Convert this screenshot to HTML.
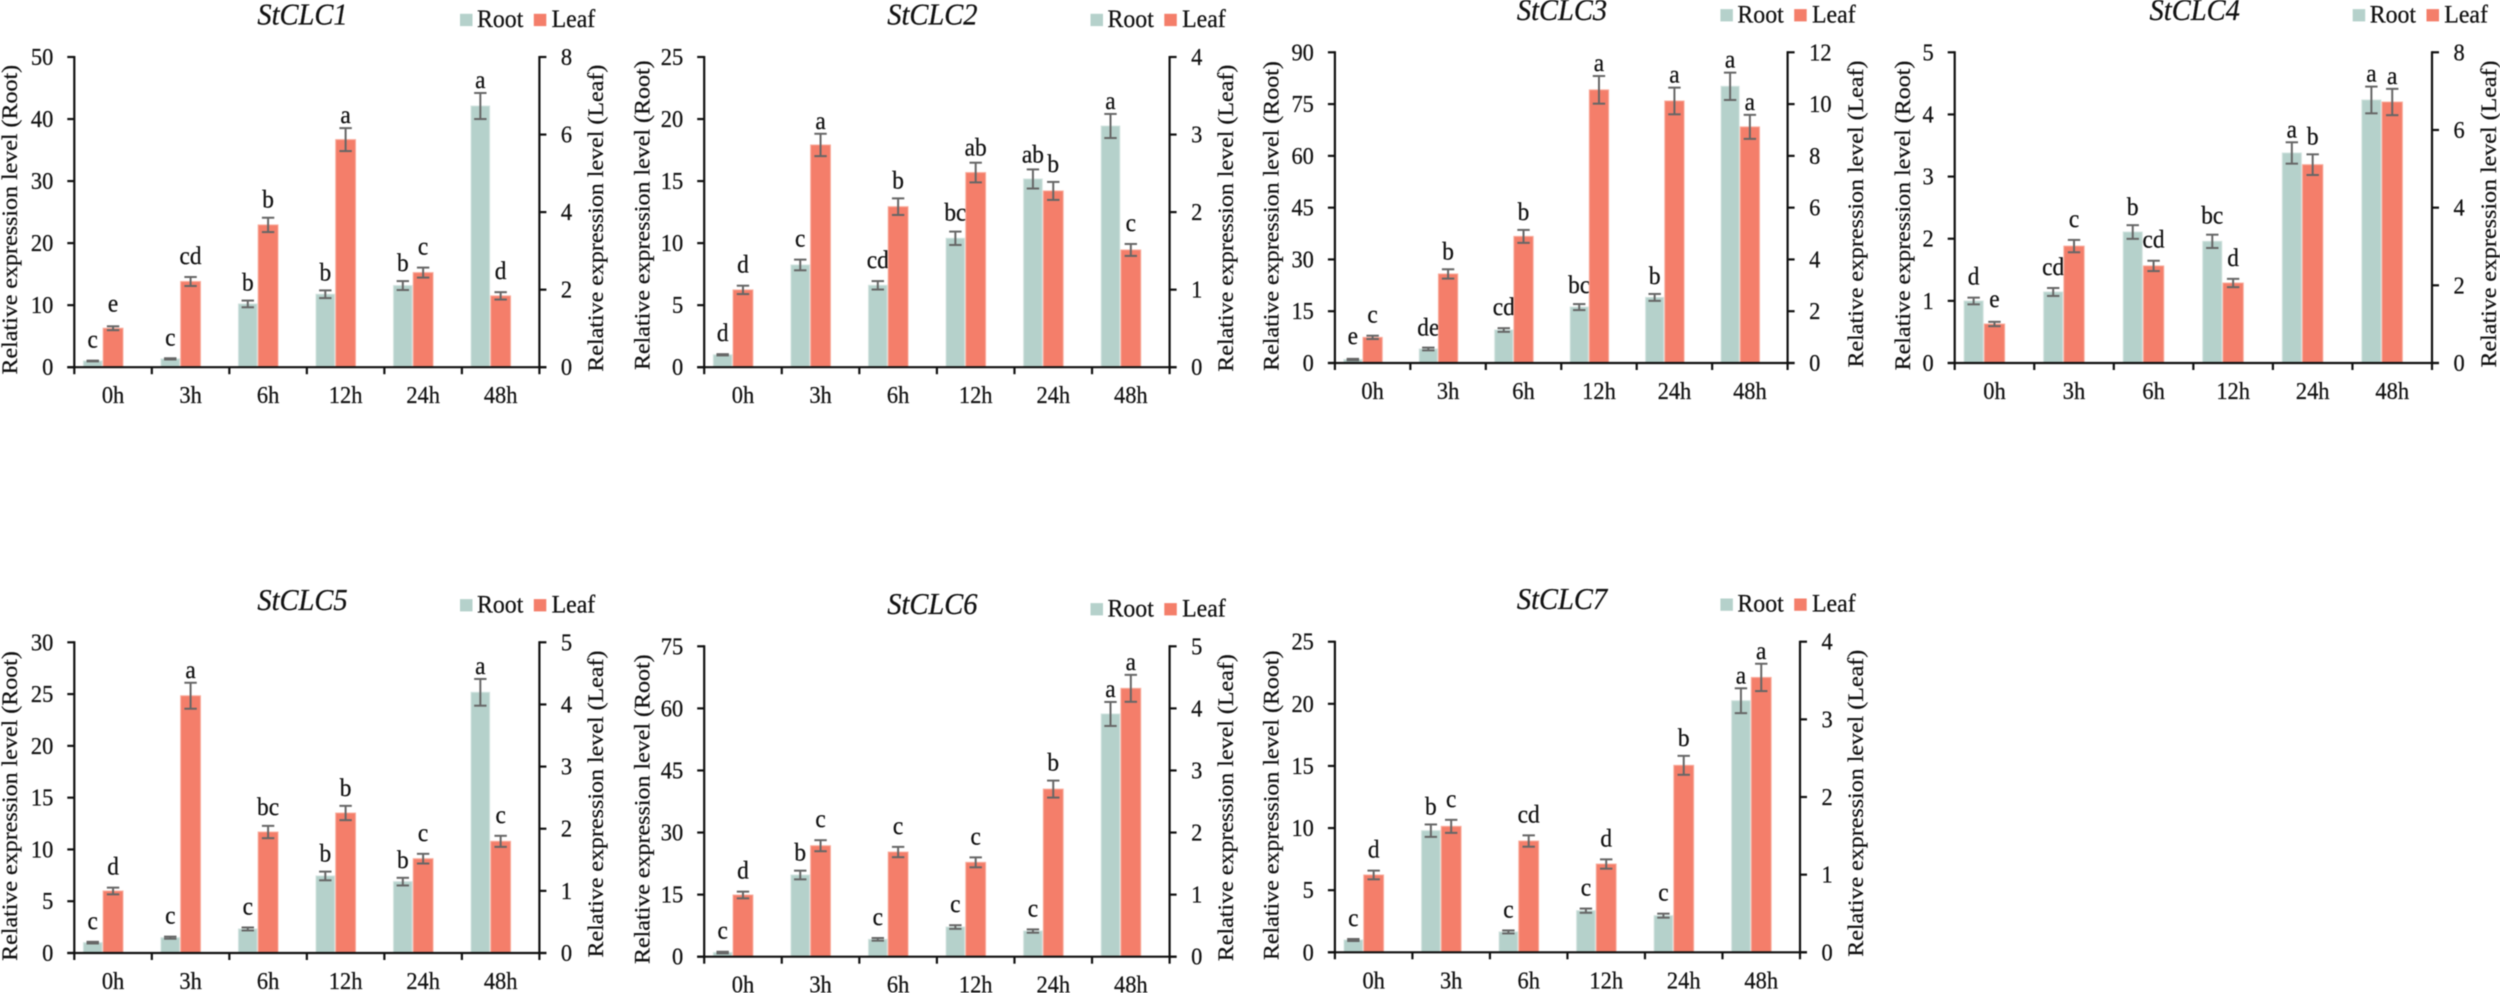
<!DOCTYPE html>
<html lang="en">
<head>
<meta charset="utf-8">
<title>StCLC relative expression levels</title>
<style>
html,body{margin:0;padding:0;background:#fff;}
svg{display:block;filter:blur(0.45px);}
text{font-family:"Liberation Serif","Times New Roman",serif;fill:#111;stroke:#111;stroke-width:0.25px;}
</style>
</head>
<body>
<svg id="figure" xmlns="http://www.w3.org/2000/svg" width="2500" height="993" viewBox="0 0 2500 993"></svg>
<script>
// Shared categories
const categories = ["0h", "3h", "6h", "12h", "24h", "48h"];

// StCLC1
const clc1RootTicks = [0, 10, 20, 30, 40, 50];
const clc1LeafTicks = [0, 2, 4, 6, 8];
const clc1Root = [1.0, 1.34, 10.2, 11.76, 13.16, 42.1];
const clc1RootErr = [0.06, 0.1, 0.54, 0.62, 0.72, 2.1];
const clc1RootLetters = ["c", "c", "b", "b", "b", "a"];
const clc1Leaf = [1.005, 2.21, 3.67, 5.87, 2.44, 1.84];
const clc1LeafErr = [0.05, 0.116, 0.185, 0.296, 0.129, 0.095];
const clc1LeafLetters = ["e", "cd", "b", "a", "c", "d"];

// StCLC2
const clc2RootTicks = [0, 5, 10, 15, 20, 25];
const clc2LeafTicks = [0, 1, 2, 3, 4];
const clc2Root = [1.0, 8.24, 6.6, 10.39, 15.17, 19.44];
const clc2RootErr = [0.05, 0.43, 0.34, 0.54, 0.77, 0.97];
const clc2RootLetters = ["d", "c", "cd", "bc", "ab", "a"];
const clc2Leaf = [0.997, 2.866, 2.07, 2.51, 2.273, 1.512];
const clc2LeafErr = [0.054, 0.144, 0.107, 0.127, 0.116, 0.077];
const clc2LeafLetters = ["d", "a", "b", "ab", "b", "c"];

// StCLC3
const clc3RootTicks = [0, 15, 30, 45, 60, 75, 90];
const clc3LeafTicks = [0, 2, 4, 6, 8, 10, 12];
const clc3Root = [1.0, 4.06, 9.56, 16.2, 19.0, 80.15];
const clc3RootErr = [0.2, 0.4, 0.53, 0.87, 1.0, 3.96];
const clc3RootLetters = ["e", "de", "cd", "bc", "b", "a"];
const clc3Leaf = [0.99, 3.44, 4.89, 10.55, 10.12, 9.12];
const clc3LeafErr = [0.064, 0.18, 0.25, 0.534, 0.515, 0.464];
const clc3LeafLetters = ["c", "b", "b", "a", "a", "a"];

// StCLC4
const clc4RootTicks = [0, 1, 2, 3, 4, 5];
const clc4LeafTicks = [0, 2, 4, 6, 8];
const clc4Root = [0.998, 1.143, 2.108, 1.958, 3.38, 4.233];
const clc4RootErr = [0.054, 0.064, 0.11, 0.107, 0.172, 0.215];
const clc4RootLetters = ["d", "cd", "b", "bc", "a", "a"];
const clc4Leaf = [1.004, 3.01, 2.5, 2.06, 5.107, 6.72];
const clc4LeafErr = [0.056, 0.159, 0.133, 0.107, 0.266, 0.339];
const clc4LeafLetters = ["e", "c", "cd", "d", "b", "a"];

// StCLC5
const clc5RootTicks = [0, 5, 10, 15, 20, 25, 30];
const clc5LeafTicks = [0, 1, 2, 3, 4, 5];
const clc5Root = [1.0, 1.48, 2.32, 7.44, 6.89, 25.17];
const clc5RootErr = [0.08, 0.1, 0.145, 0.42, 0.37, 1.29];
const clc5RootLetters = ["c", "c", "c", "b", "b", "a"];
const clc5Leaf = [0.998, 4.14, 1.947, 2.253, 1.518, 1.797];
const clc5LeafErr = [0.054, 0.209, 0.099, 0.115, 0.078, 0.089];
const clc5LeafLetters = ["d", "a", "bc", "b", "c", "c"];

// StCLC6
const clc6RootTicks = [0, 15, 30, 45, 60, 75];
const clc6LeafTicks = [0, 1, 2, 3, 4, 5];
const clc6Root = [1.0, 19.74, 4.19, 7.17, 6.2, 58.65];
const clc6RootErr = [0.2, 1.05, 0.32, 0.44, 0.4, 2.9];
const clc6RootLetters = ["c", "b", "c", "c", "c", "a"];
const clc6Leaf = [0.994, 1.788, 1.686, 1.52, 2.7, 4.323];
const clc6LeafErr = [0.054, 0.089, 0.083, 0.08, 0.137, 0.217];
const clc6LeafLetters = ["d", "c", "c", "c", "b", "a"];

// StCLC7
const clc7RootTicks = [0, 5, 10, 15, 20, 25];
const clc7LeafTicks = [0, 1, 2, 3, 4];
const clc7Root = [0.99, 9.79, 1.64, 3.35, 2.95, 20.25];
const clc7RootErr = [0.08, 0.5, 0.12, 0.17, 0.16, 1.0];
const clc7RootLetters = ["c", "b", "c", "c", "c", "a"];
const clc7Leaf = [0.996, 1.622, 1.433, 1.137, 2.408, 3.54];
const clc7LeafErr = [0.056, 0.084, 0.073, 0.06, 0.122, 0.176];
const clc7LeafLetters = ["d", "c", "cd", "d", "b", "a"];

const svg = document.getElementById('figure');
const NS = 'http://www.w3.org/2000/svg';
const ROOT_COLOR = '#b5d1cb', ROOT_EDGE = '#d3e4e0';
const LEAF_COLOR = '#f47e6a', LEAF_EDGE = '#f9ae9f';
const ERR_COLOR = '#666666', AXIS_COLOR = '#111111';
const X_SQUEEZE = 0.935;
const letterGap = {a: 5, ab: 7, b: 10, bc: 11, c: 13, cd: 13, d: 13, de: 12, e: 15};

const panels = [
  {name: 'StCLC1', left: 74.3, right: 539.4, top: 57, base: 367.2, titleX: 302.5, legendX: 460, rootTitleX: 17, rootTitleDy: -147.5, leafTitleX: 603,
   rootTicks: clc1RootTicks, leafTicks: clc1LeafTicks, root: clc1Root, rootErr: clc1RootErr, rootLetters: clc1RootLetters, leaf: clc1Leaf, leafErr: clc1LeafErr, leafLetters: clc1LeafLetters},
  {name: 'StCLC2', left: 704.2, right: 1169.6, top: 57, base: 367.2, titleX: 932.4, legendX: 1090.5, rootTitleX: 649.7, rootTitleDy: -152, leafTitleX: 1232.9,
   rootTicks: clc2RootTicks, leafTicks: clc2LeafTicks, root: clc2Root, rootErr: clc2RootErr, rootLetters: clc2RootLetters, leaf: clc2Leaf, leafErr: clc2LeafErr, leafLetters: clc2LeafLetters},
  {name: 'StCLC3', left: 1334.9, right: 1787.6, top: 52.3, base: 363, titleX: 1562, legendX: 1720.4, rootTitleX: 1278.4, rootTitleDy: -147, leafTitleX: 1863,
   rootTicks: clc3RootTicks, leafTicks: clc3LeafTicks, root: clc3Root, rootErr: clc3RootErr, rootLetters: clc3RootLetters, leaf: clc3Leaf, leafErr: clc3LeafErr, leafLetters: clc3LeafLetters},
  {name: 'StCLC4', left: 1954.7, right: 2432, top: 52.3, base: 363, titleX: 2194.7, legendX: 2352.7, rootTitleX: 1910, rootTitleDy: -147.5, leafTitleX: 2496,
   rootTicks: clc4RootTicks, leafTicks: clc4LeafTicks, root: clc4Root, rootErr: clc4RootErr, rootLetters: clc4RootLetters, leaf: clc4Leaf, leafErr: clc4LeafErr, leafLetters: clc4LeafLetters},
  {name: 'StCLC5', left: 74.3, right: 539.4, top: 642.3, base: 953, titleX: 302.5, legendX: 460, rootTitleX: 17, rootTitleDy: -147, leafTitleX: 603,
   rootTicks: clc5RootTicks, leafTicks: clc5LeafTicks, root: clc5Root, rootErr: clc5RootErr, rootLetters: clc5RootLetters, leaf: clc5Leaf, leafErr: clc5LeafErr, leafLetters: clc5LeafLetters},
  {name: 'StCLC6', left: 704.2, right: 1169.6, top: 646.3, base: 956.7, titleX: 932.4, legendX: 1090.5, rootTitleX: 649.7, rootTitleDy: -147.5, leafTitleX: 1232.9,
   rootTicks: clc6RootTicks, leafTicks: clc6LeafTicks, root: clc6Root, rootErr: clc6RootErr, rootLetters: clc6RootLetters, leaf: clc6Leaf, leafErr: clc6LeafErr, leafLetters: clc6LeafLetters},
  {name: 'StCLC7', left: 1334.9, right: 1800, top: 641.7, base: 952.3, titleX: 1562, legendX: 1720.4, rootTitleX: 1278.4, rootTitleDy: -147, leafTitleX: 1863,
   rootTicks: clc7RootTicks, leafTicks: clc7LeafTicks, root: clc7Root, rootErr: clc7RootErr, rootLetters: clc7RootLetters, leaf: clc7Leaf, leafErr: clc7LeafErr, leafLetters: clc7LeafLetters}
];

function shape(parent, tag, attrs) {
  const node = document.createElementNS(NS, tag);
  for (const key in attrs) node.setAttribute(key, attrs[key]);
  parent.appendChild(node);
  return node;
}
function line(parent, x1, y1, x2, y2, color, width) {
  return shape(parent, 'line', {x1: x1, y1: y1, x2: x2, y2: y2, stroke: color, 'stroke-width': width});
}
function label(parent, content, x, y, size, anchor, rotated, italic) {
  const inner = rotated ? ' rotate(-90)' : '';
  const node = shape(parent, 'text', {
    transform: 'translate(' + x + ' ' + y + ') scale(' + X_SQUEEZE + ' 1)' + inner,
    'font-size': size,
    'text-anchor': anchor
  });
  if (italic) node.setAttribute('font-style', 'italic');
  node.textContent = content;
  return node;
}

function drawPanel(p) {
  const key = p.name.toLowerCase();
  const g = shape(svg, 'g', {});
  
  

  const band = (p.right - p.left) / categories.length;
  const xCenter = i => p.left + (i + 0.5) * band;
  const rootMax = p.rootTicks[p.rootTicks.length - 1];
  const leafMax = p.leafTicks[p.leafTicks.length - 1];
  const yRoot = v => p.base - (v / rootMax) * (p.base - p.top);
  const yLeaf = v => p.base - (v / leafMax) * (p.base - p.top);

  function drawSeries(values, errs, letters, yScale, x0, x1, fill, edge, series) {
    values.forEach(function (v, i) {
      const c = xCenter(i);
      const barX = c + x0 * band;
      const barW = (x1 - x0) * band;
      const bar = shape(g, 'rect', {x: barX, y: yScale(v), width: barW, height: p.base - yScale(v), fill: fill, stroke: edge, 'stroke-width': 1});
      
      

      const mid = barX + barW / 2;
      const hi = yScale(v + errs[i]);
      const lo = yScale(v - errs[i]);
      const err = shape(g, 'g', {});
      
      
      line(err, mid, hi, mid, lo, ERR_COLOR, 2);
      line(err, mid - 6.2, hi, mid + 6.2, hi, ERR_COLOR, 2);
      line(err, mid - 6.2, lo, mid + 6.2, lo, ERR_COLOR, 2);

      const sig = label(g, letters[i], mid, hi - letterGap[letters[i]], 25, 'middle', false, false);
      
      
    });
  }
  drawSeries(p.root, p.rootErr, p.rootLetters, yRoot, -0.382, -0.142, ROOT_COLOR, ROOT_EDGE, 'root');
  drawSeries(p.leaf, p.leafErr, p.leafLetters, yLeaf, -0.128, 0.128, LEAF_COLOR, LEAF_EDGE, 'leaf');

  // Axes
  const leftAxis = line(g, p.left, p.top - 1, p.left, p.base + 1, AXIS_COLOR, 2.2);
  
  
  const rightAxis = line(g, p.right, p.top - 1, p.right, p.base + 1, AXIS_COLOR, 2.2);
  
  
  const xAxis = line(g, p.left - 7, p.base, p.right + 7, p.base, AXIS_COLOR, 2.2);
  
  

  p.rootTicks.forEach(function (t) {
    line(g, p.left - 7, yRoot(t), p.left, yRoot(t), AXIS_COLOR, 2.2);
    const tick = label(g, String(t), p.left - 21, yRoot(t) + 8, 24, 'end', false, false);
    
    
  });
  p.leafTicks.forEach(function (t) {
    line(g, p.right, yLeaf(t), p.right + 7, yLeaf(t), AXIS_COLOR, 2.2);
    const tick = label(g, String(t), p.right + 21.5, yLeaf(t) + 8, 24, 'start', false, false);
    
    
  });
  for (let i = 0; i <= categories.length; i++) {
    const tx = p.left + i * band;
    line(g, tx, p.base, tx, p.base + 7, AXIS_COLOR, 2.2);
  }
  categories.forEach(function (c, i) {
    const cat = label(g, c, xCenter(i), p.base + 36, 24, 'middle', false, false);
    
    
  });

  // Titles
  const title = label(g, p.name, p.titleX, p.top - 32.5, 30.5, 'middle', false, true);
  
  
  const rootTitle = label(g, 'Relative expression level (Root)', p.rootTitleX, p.base + p.rootTitleDy, 24, 'middle', true, false);
  
  
  const leafTitle = label(g, 'Relative expression level (Leaf)', p.leafTitleX, p.base - 149, 24, 'middle', true, false);
  
  

  // Legend
  const legend = shape(g, 'g', {});
  
  
  const rootSwatch = shape(legend, 'rect', {x: p.legendX, y: p.top - 43.2, width: 12.5, height: 12.3, fill: ROOT_COLOR});
  
  
  const rootText = label(legend, 'Root', p.legendX + 17, p.top - 30, 25.5, 'start', false, false);
  
  
  const leafSwatch = shape(legend, 'rect', {x: p.legendX + 73.8, y: p.top - 43.2, width: 12.5, height: 12.3, fill: LEAF_COLOR});
  
  
  const leafText = label(legend, 'Leaf', p.legendX + 91.6, p.top - 30, 25.5, 'start', false, false);
  
  
}

panels.forEach(drawPanel);
</script>
</body>
</html>
